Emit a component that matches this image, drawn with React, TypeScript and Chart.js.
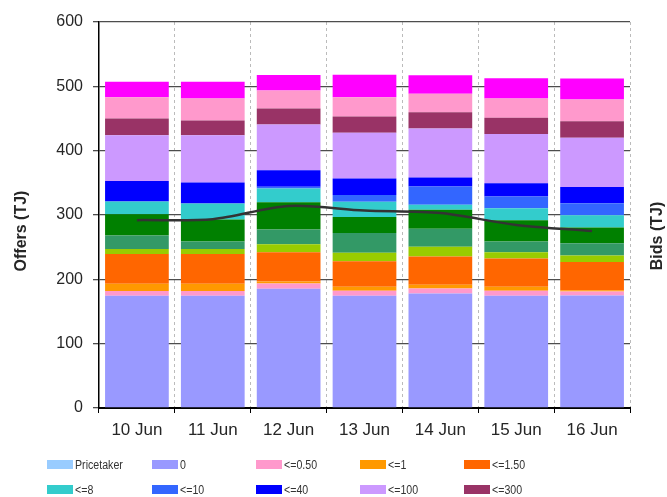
import React, { useEffect, useRef } from "react";
import { Chart, registerables } from "chart.js";

Chart.register(...registerables);

const categories = ["10 Jun", "11 Jun", "12 Jun", "13 Jun", "14 Jun", "15 Jun", "16 Jun"];

const pricetaker = [0, 0, 0, 0, 0, 0, 0];
const band0 = [174.5, 174.5, 185.5, 174.6, 178, 174.6, 175];
const le050 = [7.5, 7.5, 8, 7.8, 7.8, 7.8, 6];
const le1 = [11, 11, 3, 6.2, 5.7, 6.2, 2];
const le150 = [46.5, 46.5, 45.5, 39.4, 44, 43.6, 44];
const le2 = [7.5, 7.5, 12.5, 13.5, 15, 10, 10];
const le3 = [21, 12, 23, 30.5, 28, 16.7, 19];
const le5 = [33, 34, 42.5, 25, 29.5, 33, 24.5];
const le8 = [20, 25, 21, 23.5, 7.8, 18.7, 19];
const le10 = [0, 0, 3, 10.5, 28.5, 18.2, 18.7];
const le40 = [32, 32.5, 25.7, 25.7, 14, 20.7, 25.5];
const le100 = [71, 73.5, 71, 71.3, 76, 76.3, 76.2];
const le300 = [26, 23, 25, 25, 25.5, 25.3, 26];
const le1000 = [33, 34, 28, 30, 28.5, 30, 33.7];
const le10000 = [24, 26, 24, 35, 29, 31.4, 32.7];
const bids = [292, 293.5, 314, 307, 303, 284.6, 275];

const legendLabels = ["Pricetaker", "0", "<=0.50", "<=1", "<=1.50", "<=8", "<=10", "<=40", "<=100", "<=300"];

const FONT = "'Liberation Sans', Arial, sans-serif";

const customPlugin = {
  id: "custom",
  afterDraw(chart: any) {
    const ctx = chart.ctx;
    ctx.save();
    // axis titles
    ctx.fillStyle = "#262626";
    ctx.font = `bold 16px ${FONT}`;
    ctx.textAlign = "center";
    ctx.textBaseline = "middle";
    ctx.save();
    ctx.translate(22, 231);
    ctx.rotate(-Math.PI / 2);
    ctx.fillText("Offers (TJ)", 0, 0);
    ctx.restore();
    ctx.save();
    ctx.translate(658, 236);
    ctx.rotate(-Math.PI / 2);
    ctx.fillText("Bids (TJ)", 0, 0);
    ctx.restore();

    // legend
    const cols = [47, 152, 256, 360, 464];
    const rows = [460, 485];
    ctx.font = `12.5px ${FONT}`;
    ctx.textAlign = "left";
    ctx.textBaseline = "middle";
    legendLabels.forEach((lab, i) => {
      const ds = chart.data.datasets.find((d: any) => d.label === lab);
      if (!ds) return;
      const x = cols[i % 5];
      const y = rows[Math.floor(i / 5)];
      ctx.fillStyle = ds.backgroundColor;
      ctx.fillRect(x, y, 26, 9);
      ctx.fillStyle = "#333";
      ctx.save();
      ctx.translate(x + 28, y + 5.5);
      ctx.scale(0.85, 1);
      ctx.fillText(lab, 0, 0);
      ctx.restore();
    });
    ctx.restore();
  },
};

export default function App() {
  const ref = useRef<HTMLCanvasElement>(null);
  useEffect(() => {
    const bar = (label: string, data: number[], color: string) => ({
      type: "bar" as const,
      label,
      data,
      backgroundColor: color,
      borderWidth: 0,
      stack: "s",
      yAxisID: "y",
      order: 1,
      barPercentage: 0.84,
      categoryPercentage: 1.0,
    });
    const chart = new Chart(ref.current!, {
      type: "bar",
      data: {
        labels: categories,
        datasets: [
          {
            type: "line" as const,
            label: "Bids",
            data: bids,
            borderColor: "#333333",
            borderWidth: 2.5,
            pointRadius: 0,
            tension: 0.3,
            fill: false,
            yAxisID: "y2",
            order: 0,
          } as any,
          bar("Pricetaker", pricetaker, "#99CCFF"),
          bar("0", band0, "#9999FF"),
          bar("<=0.50", le050, "#FF99CC"),
          bar("<=1", le1, "#FF9900"),
          bar("<=1.50", le150, "#FF6600"),
          bar("<=2", le2, "#99CC00"),
          bar("<=3", le3, "#339966"),
          bar("<=5", le5, "#008000"),
          bar("<=8", le8, "#33CCCC"),
          bar("<=10", le10, "#3366FF"),
          bar("<=40", le40, "#0000FF"),
          bar("<=100", le100, "#CC99FF"),
          bar("<=300", le300, "#993366"),
          bar("<=1000", le1000, "#FF99CC"),
          bar("<=10000", le10000, "#FF00FF"),
        ],
      },
      options: {
        animation: false,
        responsive: true,
        maintainAspectRatio: false,
        layout: { padding: { left: 0, right: 37, top: 22, bottom: 49 } },
        plugins: { legend: { display: false }, tooltip: { enabled: false } },
        scales: {
          x: {
            stacked: true,
            grid: {
              color: "#bbbbbb",
              lineWidth: 1,
              tickColor: "#000000",
              tickLength: 5,
              tickWidth: 1,
              tickBorderDash: [],
              offset: true,
            },
            border: { color: "#000000", width: 2, dash: [3, 3] },
            ticks: { color: "#262626", font: { family: FONT, size: 17 }, padding: 7 },
            afterFit(scale: any) {
              scale.height = 40;
            },
          },
          y: {
            stacked: true,
            min: 0,
            max: 600,
            ticks: { stepSize: 100, color: "#262626", font: { family: FONT, size: 16 }, padding: 10 },
            grid: { color: "#4d4d4d", lineWidth: 1.3, tickLength: 6, tickColor: "#4d4d4d" },
            border: { color: "#000000", width: 1.5 },
            afterFit(scale: any) {
              scale.width = 99;
            },
          },
          y2: {
            display: false,
            position: "right",
            min: 0,
            max: 600,
          },
        },
      },
      plugins: [customPlugin],
    });
    return () => chart.destroy();
  }, []);
  return (
    <div style={{ position: "absolute", left: 0, top: 0, width: 667, height: 497, background: "#fff" }}>
      <canvas ref={ref} />
    </div>
  );
}
